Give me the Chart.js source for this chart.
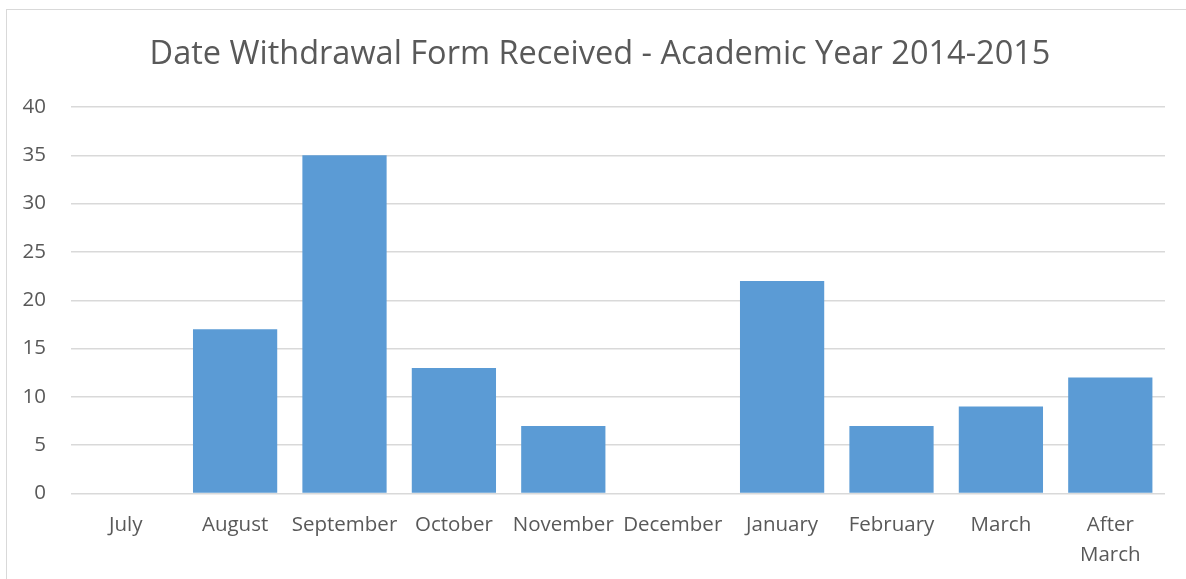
<!DOCTYPE html>
<html>
<head>
<meta charset="utf-8">
<script src="https://cdn.jsdelivr.net/npm/chart.js@4/dist/chart.umd.min.js"></script>
<style>
    html, body { margin: 0; padding: 0; background: #fff; }
    #wrap { position: relative; width: 1186px; height: 579px; overflow: hidden; }
    #frame { position: absolute; left: 6px; top: 9px; width: 1200px; height: 600px;
             border: 1.5px solid #d9d9d9; box-sizing: border-box; }
    canvas { position: absolute; left: 0; top: 0; }
</style>
</head>
<body>
<div id="wrap">
    <div id="frame"></div>
    <canvas id="chart" width="1186" height="579"></canvas>
</div>
<script>
const categories = ['July', 'August', 'September', 'October', 'November', 'December',
    'January', 'February', 'March', ['After', 'March']];
const formsReceived = [0, 17, 35, 13, 7, 0, 22, 7, 9, 12];
const yTicks = [0, 5, 10, 15, 20, 25, 30, 35, 40];

const textColor = '#595959';
const fontFamily = '"Open Sans", "Liberation Sans", sans-serif';

new Chart(document.getElementById('chart'), {
    type: 'bar',
    data: {
        labels: categories,
        datasets: [{
            label: 'Forms received',
            data: formsReceived,
            backgroundColor: '#5b9bd5',
            borderWidth: 0,
            categoryPercentage: 1,
            barPercentage: 0.77
        }]
    },
    options: {
        responsive: false,
        animation: false,
        // title centres between left padding and the canvas edge (x=600)
        layout: { padding: { left: 14, right: 0, top: 0, bottom: 0 } },
        plugins: {
            legend: { display: false },
            tooltip: { enabled: false },
            title: {
                display: true,
                text: 'Date Withdrawal Form Received - Academic Year 2014-2015',
                color: textColor,
                font: { family: fontFamily, size: 32.5, weight: 'normal' },
                padding: { top: 35, bottom: 33 }
            }
        },
        scales: {
            x: {
                grid: { display: false },
                border: { display: false },
                ticks: {
                    color: textColor,
                    font: { family: fontFamily, size: 20.5, lineHeight: 1.45 },
                    padding: 9,
                    maxRotation: 0,
                    autoSkip: false
                }
            },
            y: {
                min: 0,
                max: 40,
                afterBuildTicks: (scale) => { scale.ticks = yTicks.map(v => ({ value: v })); },
                afterFit: (scale) => { scale.width = 57; },
                grid: { color: '#d9d9d9', lineWidth: 1.5, drawTicks: false },
                border: { display: false },
                ticks: {
                    color: textColor,
                    font: { family: fontFamily, size: 20.5 },
                    padding: 25
                }
            },
            // empty spacer so the plot stops short of the right edge
            spacer: {
                position: 'right',
                afterFit: (scale) => { scale.width = 21; },
                grid: { display: false },
                border: { display: false },
                ticks: { display: false }
            }
        }
    }
});
</script>
</body>
</html>
